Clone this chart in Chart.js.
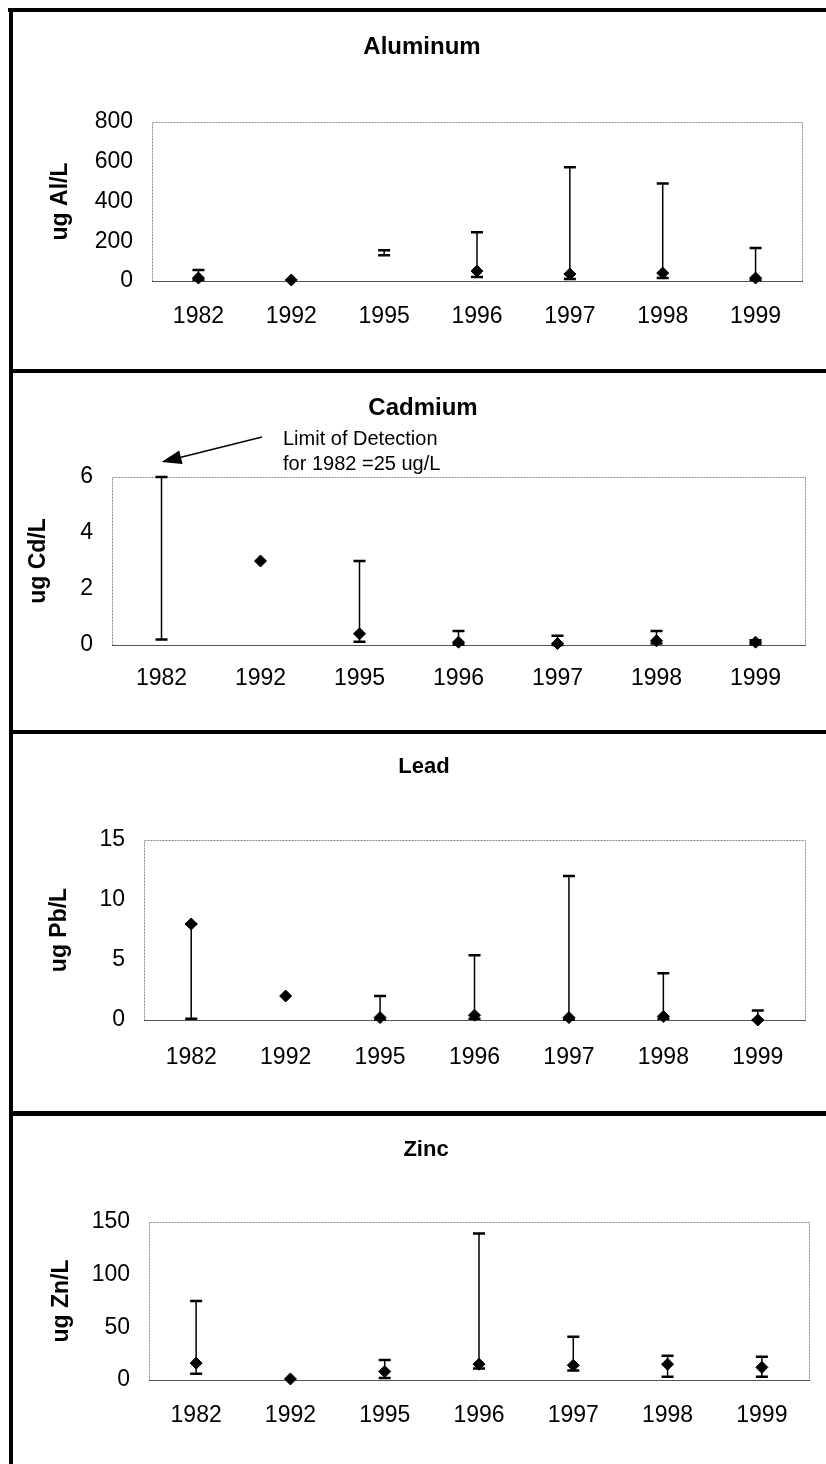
<!DOCTYPE html>
<html>
<head>
<meta charset="utf-8">
<title>Metals</title>
<script src="https://cdn.jsdelivr.net/npm/chart.js@4.4.1/dist/chart.umd.min.js"></script>
<style>
  body { margin: 0; background: #fff; }
  #page { position: relative; width: 826px; height: 1464px; overflow: hidden; background: #fff; }
  #page canvas { position: absolute; left: 0; }
  .rule { position: absolute; background: #000; }
</style>
</head>
<body>
<div id="page">
  <canvas id="js_aluminum" width="826" height="370" style="top:0px"></canvas>
  <canvas id="js_cadmium" width="826" height="361" style="top:370px"></canvas>
  <canvas id="js_lead" width="826" height="382" style="top:731px"></canvas>
  <canvas id="js_zinc" width="826" height="351" style="top:1113px"></canvas>

  <div class="rule" style="left:8px;top:8px;width:818px;height:4px"></div>
  <div class="rule" style="left:9px;top:8px;width:4px;height:1456px"></div>
  <div class="rule" style="left:9px;top:369px;width:817px;height:4px"></div>
  <div class="rule" style="left:9px;top:730px;width:817px;height:4px"></div>
  <div class="rule" style="left:9px;top:1111px;width:817px;height:5px"></div>
</div>
<script>
const years = ['1982', '1992', '1995', '1996', '1997', '1998', '1999']

// mean and range (low / high) per sampling year, ug/L
// null = nothing plotted for that year
const aluminumMean = [15, 5, null, 50, 35, 40, 15]
const aluminumLow = [5, null, 130, 20, 10, 15, 5]
const aluminumHigh = [55, null, 155, 245, 572, 491, 166]

const cadmiumMean = [null, 3.0, 0.4, 0.1, 0.05, 0.15, 0.1]
const cadmiumLow = [0.2, null, 0.12, 0.02, 0.0, 0.05, 0.03]
const cadmiumHigh = [6.0, null, 3.0, 0.5, 0.33, 0.5, 0.17]

const leadMean = [8.0, 2.0, 0.2, 0.4, 0.2, 0.3, 0.0]
const leadLow = [0.1, null, 0.05, 0.1, 0.05, 0.1, 0.0]
const leadHigh = [8.0, null, 2.0, 5.4, 12.0, 3.9, 0.8]

const zincMean = [16, 1, 8, 15, 14, 15, 12]
const zincLow = [6, null, 2, 11, 9, 3, 3]
const zincHigh = [75, null, 19, 139, 41, 23, 22]

const FONT = "'Liberation Sans', Arial, sans-serif"
const TICK_SIZE = 23
const AXIS_TITLE_SIZE = 23

// min/max whiskers, drawn under the diamonds
const errorBars = {
  id: 'errorBars',
  beforeDatasetsDraw(chart, args, opts) {
    const {ctx, scales: {x, y}} = chart
    const mean = chart.data.datasets[0].data
    const low = opts.low
    const high = opts.high
    ctx.save()
    ctx.strokeStyle = '#000'
    for (let i = 0; i < high.length; i++) {
      if (high[i] === null || high[i] === undefined) continue
      const px = x.getPixelForValue(i)
      const top = y.getPixelForValue(high[i])
      const bottomVal = low[i] !== null ? low[i] : mean[i]
      const bot = y.getPixelForValue(bottomVal)
      ctx.lineWidth = 1.5
      ctx.beginPath()
      ctx.moveTo(px, top)
      ctx.lineTo(px, bot)
      ctx.stroke()
      ctx.lineWidth = 2.5
      ctx.beginPath()
      ctx.moveTo(px - 6, top)
      ctx.lineTo(px + 6, top)
      if (low[i] !== null) {
        ctx.moveTo(px - 6, bot)
        ctx.lineTo(px + 6, bot)
      }
      ctx.stroke()
    }
    ctx.restore()
  }
}

// excel style plot area: dotted grey box, darker base line
const plotFrame = {
  id: 'plotFrame',
  beforeDatasetsDraw(chart) {
    const {ctx, chartArea: a} = chart
    ctx.save()
    ctx.strokeStyle = '#8a8a8a'
    ctx.lineWidth = 1
    ctx.setLineDash([2, 1])
    ctx.beginPath()
    ctx.moveTo(a.left + 0.5, a.bottom + 0.5)
    ctx.lineTo(a.left + 0.5, a.top + 0.5)
    ctx.lineTo(a.right + 0.5, a.top + 0.5)
    ctx.lineTo(a.right + 0.5, a.bottom + 0.5)
    ctx.stroke()
    ctx.setLineDash([])
    ctx.strokeStyle = '#555'
    ctx.beginPath()
    ctx.moveTo(a.left, a.bottom + 0.5)
    ctx.lineTo(a.right + 1, a.bottom + 0.5)
    ctx.stroke()
    ctx.restore()
  }
}

// note + arrow on the cadmium panel pointing at the 1982 bar
const detectionNote = {
  id: 'detectionNote',
  afterDraw(chart) {
    const {ctx, scales: {x, y}} = chart
    ctx.save()
    ctx.fillStyle = '#000'
    ctx.font = '20px ' + FONT
    ctx.textBaseline = 'middle'
    ctx.textAlign = 'left'
    ctx.fillText('Limit of Detection', 283, 69)
    ctx.fillText('for 1982 =25 ug/L', 283, 94)

    const tipX = x.getPixelForValue(0)
    const tipY = y.getPixelForValue(6) - 15
    const tailX = 262, tailY = 67
    const ang = Math.atan2(tailY - tipY, tailX - tipX)
    const headLen = 20, headW = 7
    const bx = tipX + Math.cos(ang) * headLen
    const by = tipY + Math.sin(ang) * headLen
    ctx.strokeStyle = '#000'
    ctx.lineWidth = 1.5
    ctx.beginPath()
    ctx.moveTo(tailX, tailY)
    ctx.lineTo(bx, by)
    ctx.stroke()
    ctx.beginPath()
    ctx.moveTo(tipX, tipY)
    ctx.lineTo(bx - Math.sin(ang) * headW, by + Math.cos(ang) * headW)
    ctx.lineTo(bx + Math.sin(ang) * headW, by - Math.cos(ang) * headW)
    ctx.closePath()
    ctx.fill()
    ctx.restore()
  }
}

function metalChart(id, title, titleSize, yTitle, mean, low, high, yMax, yStep, box, extra) {
  const canvas = document.getElementById(id)
  const h = canvas.height
  const axisLine = AXIS_TITLE_SIZE * 1.2
  const titleLine = titleSize * 1.2
  // left padding chosen so the centred title lands on box.titleX
  const padLeft = 2 * box.titleX - box.right
  const padRight = 826 - box.right

  const data = {
    labels: years,
    datasets: [{
      data: mean,
      showLine: false,
      pointStyle: 'rectRot',
      pointRadius: 6,
      pointHoverRadius: 6,
      pointBackgroundColor: '#000',
      pointBorderColor: '#000',
      pointBorderWidth: 1,
      clip: false
    }]
  }

  const options = {
    responsive: false,
    animation: false,
    events: [],
    layout: {padding: {left: padLeft, right: padRight, top: 0, bottom: 0}},
    plugins: {
      legend: {display: false},
      tooltip: {enabled: false},
      title: {
        display: true,
        text: title,
        color: '#000',
        font: {family: FONT, size: titleSize, weight: 'bold'},
        padding: {top: box.titleY - titleLine / 2, bottom: box.top - box.titleY - titleLine / 2}
      },
      errorBars: {low, high}
    },
    scales: {
      x: {
        type: 'category',
        offset: true,
        grid: {display: false, drawTicks: false},
        border: {display: false},
        ticks: {
          color: '#000',
          font: {family: FONT, size: TICK_SIZE},
          padding: box.labelY - box.bottom - TICK_SIZE * 0.55,
          maxRotation: 0,
          autoSkip: false
        },
        afterFit(scale) { scale.height = h - box.bottom }
      },
      y: {
        min: 0,
        max: yMax,
        grid: {display: false, drawTicks: false},
        border: {display: false},
        ticks: {
          stepSize: yStep,
          color: '#000',
          font: {family: FONT, size: TICK_SIZE},
          padding: 19
        },
        title: {
          display: true,
          text: yTitle,
          color: '#000',
          font: {family: FONT, size: AXIS_TITLE_SIZE, weight: 'bold'},
          padding: {top: box.axisTitleX - axisLine / 2 - padLeft, bottom: 0}
        },
        afterFit(scale) { scale.width = box.left - padLeft }
      }
    }
  }

  const plugins = [plotFrame, errorBars]
  if (extra) plugins.push(extra)

  return new Chart(canvas.getContext('2d'), {type: 'line', data, options, plugins})
}

// plot geometry per panel, in canvas pixels
metalChart('js_aluminum', 'Aluminum', 24, 'ug Al/L', aluminumMean, aluminumLow, aluminumHigh, 800, 200,
  {left: 152, right: 802, top: 122, bottom: 281, titleX: 422, titleY: 47, axisTitleX: 61, labelY: 316})

metalChart('js_cadmium', 'Cadmium', 24, 'ug Cd/L', cadmiumMean, cadmiumLow, cadmiumHigh, 6, 2,
  {left: 112, right: 805, top: 107, bottom: 275, titleX: 423, titleY: 38, axisTitleX: 39, labelY: 308},
  detectionNote)

metalChart('js_lead', 'Lead', 22, 'ug Pb/L', leadMean, leadLow, leadHigh, 15, 5,
  {left: 144, right: 805, top: 109, bottom: 289, titleX: 424, titleY: 36, axisTitleX: 60, labelY: 326})

metalChart('js_zinc', 'Zinc', 22, 'ug Zn/L', zincMean, zincLow, zincHigh, 150, 50,
  {left: 149, right: 809, top: 109, bottom: 267, titleX: 426, titleY: 37, axisTitleX: 62, labelY: 302})
</script>
</body>
</html>
